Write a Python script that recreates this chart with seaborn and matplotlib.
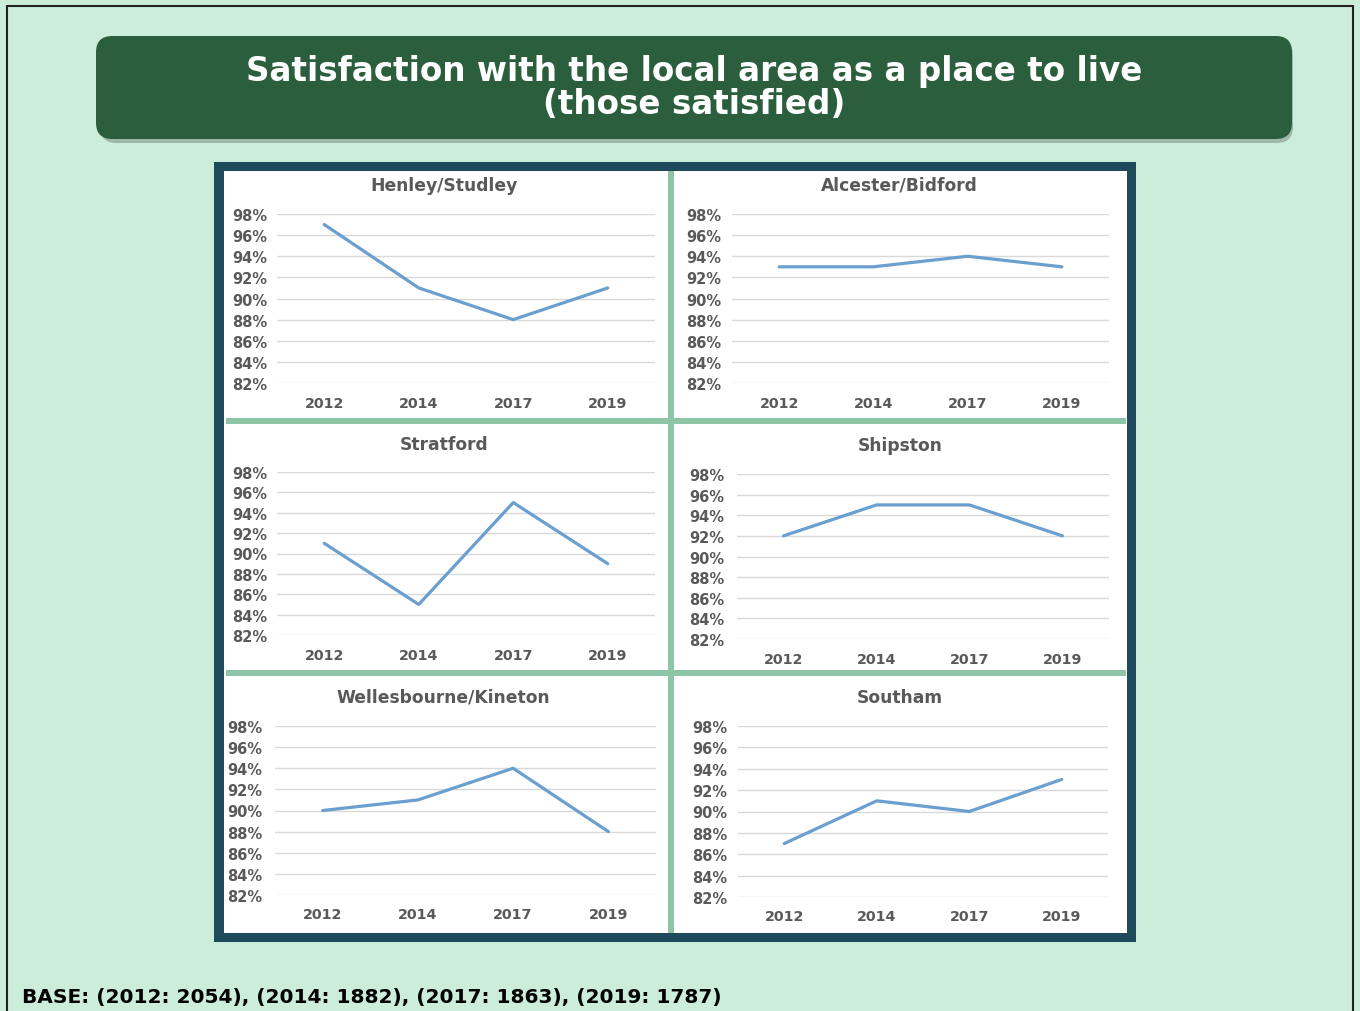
import numpy as np
import pandas as pd
import matplotlib
matplotlib.use("Agg")
import matplotlib.pyplot as plt
from matplotlib.patches import Rectangle, FancyBboxPatch
import seaborn as sns

# ---------------- data ----------------
years = ["2012", "2014", "2017", "2019"]
areas = ["Henley/Studley", "Alcester/Bidford", "Stratford",
         "Shipston", "Wellesbourne/Kineton", "Southam"]
henley = [97, 91, 88, 91]
alcester = [93, 93, 94, 93]
stratford = [91, 85, 95, 89]
shipston = [92, 95, 95, 92]
wellesbourne = [90, 91, 94, 88]
southam = [87, 91, 90, 93]
y_ticks = [82, 84, 86, 88, 90, 92, 94, 96, 98]
title = "Satisfaction with the local area as a place to live\n(those satisfied)"
footer = "BASE: (2012: 2054), (2014: 1882), (2017: 1863), (2019: 1787)"

series = [henley, alcester, stratford, shipston, wellesbourne, southam]
rows = []
for a, vals in zip(areas, series):
    for i, (yr, v) in enumerate(zip(years, vals)):
        rows.append({"area": a, "year": yr, "pos": i, "value": v})
df = pd.DataFrame(rows)

# ---------------- figure ----------------
W, H = 1360, 1012
sns.set_theme(style="white")
plt.rcParams["font.family"] = ["DejaVu Sans"]
fig = plt.figure(figsize=(W / 100, H / 100), dpi=100)
fig.patch.set_facecolor("white")

def fx(x):
    return x / W

def fy(y):
    return 1 - y / H

def rect_px(x0, y0, x1, y1, **kw):
    r = Rectangle((fx(x0), fy(y1)), fx(x1) - fx(x0), fy(y0) - fy(y1),
                  transform=fig.transFigure, **kw)
    fig.add_artist(r)
    return r

# background and outer border
rect_px(0, 0, W, H, facecolor="#CBEDD9", edgecolor="none", zorder=0)
rect_px(7, 7, 1353, H + 20, facecolor="none", edgecolor="#222222", linewidth=1.5, zorder=1)

# title box with shadow
sh = FancyBboxPatch((fx(100), fy(144)), fx(1293) - fx(100), fy(40) - fy(144),
                    boxstyle="round,pad=0,rounding_size=0.012",
                    transform=fig.transFigure, facecolor="#9FB8A8", edgecolor="none",
                    zorder=1, mutation_aspect=W / H)
fig.add_artist(sh)
tb = FancyBboxPatch((fx(96), fy(140)), fx(1292) - fx(96), fy(37) - fy(140),
                    boxstyle="round,pad=0,rounding_size=0.012",
                    transform=fig.transFigure, facecolor="#2A5E3D", edgecolor="none",
                    zorder=2, mutation_aspect=W / H)
fig.add_artist(tb)
fig.text(fx(694), fy(88), title, ha="center", va="center", color="white",
         fontsize=23.5, fontweight="bold", linespacing=1.03, zorder=3)

# chart frame
rect_px(214, 163, 1136, 943, facecolor="#1F4A5C", edgecolor="none", zorder=1)
rect_px(224, 172, 1127, 934, facecolor="white", edgecolor="none", zorder=2)
div_col = "#8EC5A7"
rect_px(668, 172, 674, 934, facecolor=div_col, edgecolor="none", zorder=2)
rect_px(226, 419, 1126, 425, facecolor=div_col, edgecolor="none", zorder=2)
rect_px(226, 671, 1126, 677, facecolor=div_col, edgecolor="none", zorder=2)

# plot areas (pixel bounds: left, top, right, bottom) and title positions
plot_boxes = [
    (277, 215, 655, 384),
    (732, 215, 1109, 384),
    (277, 473, 655, 636),
    (737, 475, 1109, 640),
    (275, 727, 656, 896),
    (738, 727, 1108, 898),
]
title_pos = [(444, 186), (899, 186), (444, 445), (900, 446), (443, 698), (900, 698)]
ypads = [7, 8, 7, 9, 9, 8]

text_col = "#595959"
line_col = "#6A9FCF"

for area, (l, t, r, b), (tx, ty), yp in zip(areas, plot_boxes, title_pos, ypads):
    ax = fig.add_axes([fx(l), fy(b), fx(r) - fx(l), fy(t) - fy(b)], zorder=3)
    ax.set_facecolor("none")
    sub = df[df["area"] == area]
    sns.lineplot(data=sub, x="pos", y="value", ax=ax, color=line_col,
                 linewidth=2.3, legend=False)
    ax.set_xlim(-0.5, 3.5)
    ax.set_ylim(82, 98)
    ax.set_yticks(y_ticks)
    ax.set_yticklabels([f"{v}%" for v in y_ticks])
    ax.set_xticks(range(len(years)))
    ax.set_xticklabels(years)
    ax.grid(axis="y", color="#D9D9D9", linewidth=1.0)
    ax.grid(axis="x", visible=False)
    for s in ax.spines.values():
        s.set_visible(False)
    ax.tick_params(axis="y", length=0, pad=yp, labelsize=10.5, labelcolor=text_col)
    ax.tick_params(axis="x", length=0, pad=9, labelsize=10.3, labelcolor=text_col)
    for lab in ax.get_xticklabels() + ax.get_yticklabels():
        lab.set_fontweight("bold")
    ax.set_xlabel("")
    ax.set_ylabel("")
    fig.text(fx(tx), fy(ty), area, ha="center", va="center", color=text_col,
             fontsize=12.3, fontweight="bold", zorder=4)

fig.text(fx(22), fy(998), footer, ha="left", va="center", color="black",
         fontsize=14.5, fontweight="bold", zorder=4)

fig.savefig("out.png", dpi=100, facecolor=fig.get_facecolor())
